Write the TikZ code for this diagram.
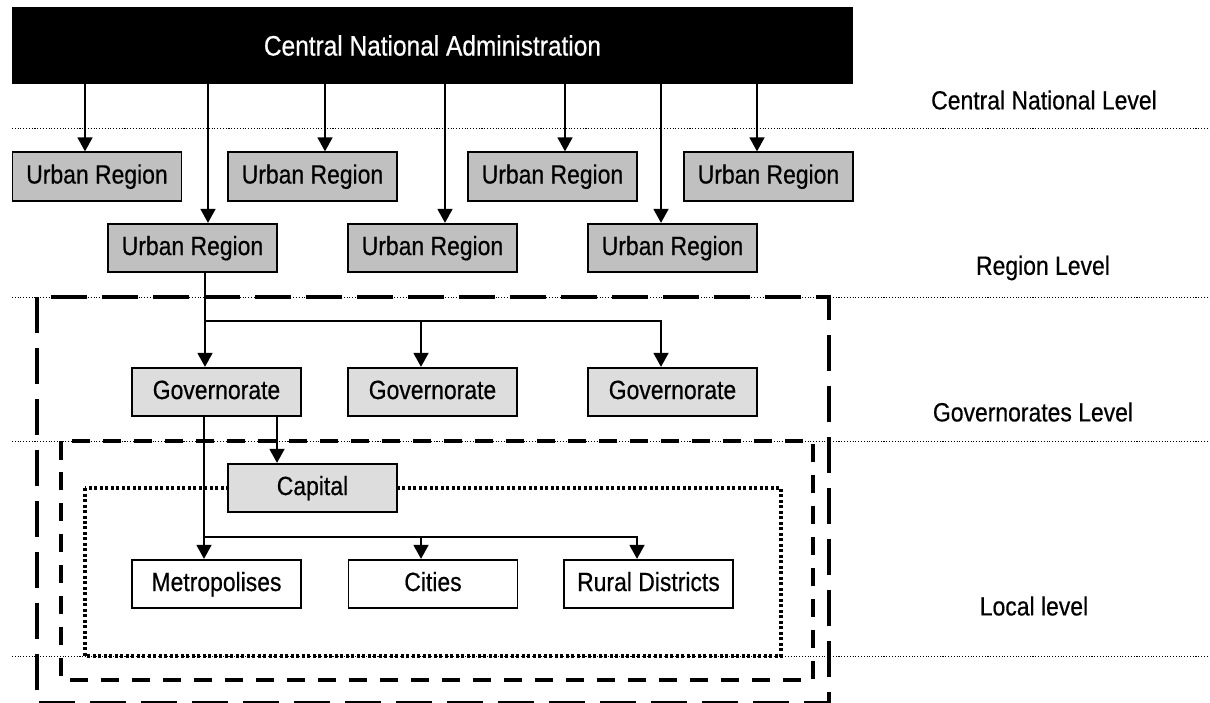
\documentclass[tikz,border=0pt]{standalone}
\usepackage{fontspec}
\setmainfont[FakeStretch=0.87, FakeBold=0.5]{Liberation Sans}
\usepackage{tikz}
\usetikzlibrary{arrows.meta, positioning}

\definecolor{urbangray}{RGB}{192,192,192}
\definecolor{govgray}{RGB}{221,221,221}

\begin{document}
\begin{tikzpicture}[
  x=0.02cm, y=-0.02cm,
  font=\fontsize{15}{18}\selectfont,
  topbox/.style = {rectangle, fill=black, text=white, minimum width=16.82cm, minimum height=1.54cm, font=\fontsize{16}{19}\selectfont},
  urban/.style = {rectangle, draw=black, line width=1pt, fill=urbangray, minimum width=3.38cm, minimum height=0.97cm, text height=11pt, text depth=3pt},
  gov/.style = {urban, fill=govgray},
  local/.style = {urban, fill=white},
  levelsep/.style = {line width=0.4pt, dash pattern=on 0.6pt off 1pt},
  outerbox/.style = {line width=0.08cm, dash pattern=on 0.72cm off 0.3cm},
  innerbox/.style = {line width=0.08cm, dash pattern=on 0.37cm off 0.25cm},
  dotbox/.style = {line width=0.07cm, dash pattern=on 0.06cm off 0.05cm},
  arrow/.style = {line width=0.9pt, -{Triangle[width=0.3cm, length=0.28cm]}}
]
\useasboundingbox (0,0) rectangle (1210,703);

% level lines and frames
\foreach \y in {128, 297, 441, 656}
  \draw[levelsep] (12,\y) -- (1210,\y);
\draw[outerbox] (37,297) rectangle (829,703);
\draw[innerbox] (61,441) rectangle (813,680);
\draw[dotbox] (85,488) rectangle (781,656);

\node[topbox] (cna) at (432.5,45.5) {Central National Administration};

\node[urban] (ur1) at (97,176.5) {Urban Region};
\node[urban] (ur2) at (312.5,176.5) {Urban Region};
\node[urban] (ur3) at (552.5,176.5) {Urban Region};
\node[urban] (ur4) at (768.5,176.5) {Urban Region};
\node[urban] (ur5) at (192.5,248) {Urban Region};
\node[urban] (ur6) at (432.5,248) {Urban Region};
\node[urban] (ur7) at (672.5,248) {Urban Region};

\node[gov] (gov1) at (216.5,392) {Governorate};
\node[gov] (gov2) at (432.5,392) {Governorate};
\node[gov] (gov3) at (672.5,392) {Governorate};

\node[gov] (cap) at (312.5,488) {Capital};

\node[local] (metro) at (216.5,584) {Metropolises};
\node[local] (cities) at (433,584) {Cities};
\node[local] (rural) at (648.5,584) {Rural Districts};

\node (lvlcentral) at (1044,100) {Central National Level};
\node (lvlregion) at (1043,268) {Region Level};
\node (lvlgov) at (1033,412) {Governorates Level};
\node (lvllocal) at (1034,606) {Local level};

% from the administration to the regions
\foreach \b/\dx in {ur1/-0.24, ur5/0.31, ur2/0.25, ur6/0.25, ur3/0.25, ur7/-0.23, ur4/-0.23}{
  \coordinate (t\b) at ([xshift=\dx cm]\b.north);
  \draw[arrow] (cna.south -| t\b) -- (t\b);
}

% region to governorates
\coordinate (tg1) at ([xshift=-0.23cm]gov1.north);
\coordinate (tg2) at ([xshift=-0.23cm]gov2.north);
\coordinate (tg3) at ([xshift=-0.23cm]gov3.north);
\coordinate (rsplit) at (205,321);
\draw[arrow] (ur5.south -| tg1) -- (tg1);
\draw[arrow] (rsplit) -| (tg2);
\draw[arrow] (rsplit) -| (tg3);

% governorate to capital and local units
\coordinate (tcap) at ([xshift=-0.71cm]cap.north);
\draw[arrow] (gov1.south -| tcap) -- (tcap);
\coordinate (tm) at ([xshift=-0.25cm]metro.north);
\coordinate (tc) at ([xshift=-0.24cm]cities.north);
\coordinate (tr) at ([xshift=-0.23cm]rural.north);
\coordinate (lsplit) at (204,537);
\draw[arrow] (gov1.south -| tm) -- (tm);
\draw[arrow] (lsplit) -| (tc);
\draw[arrow] (lsplit) -| (tr);
\end{tikzpicture}
\end{document}
